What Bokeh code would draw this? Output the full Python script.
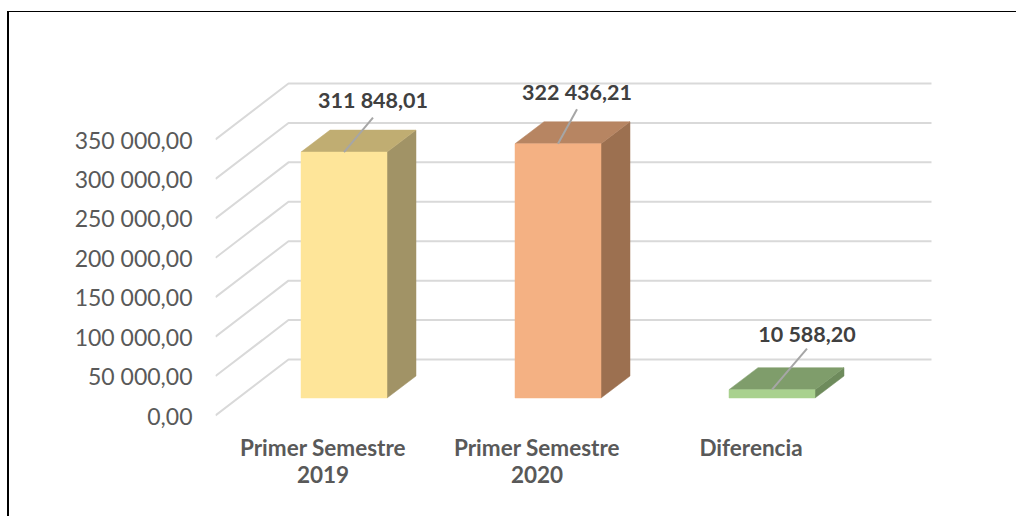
from bokeh.plotting import figure
from bokeh.embed import file_html
from bokeh.resources import INLINE
from bokeh.models import FixedTicker
from bokeh.core.properties import value

# ---- data ----
categories = ["Primer Semestre\n2019", "Primer Semestre\n2020", "Diferencia"]
values = [311848.01, 322436.21, 10588.20]
value_labels = ["311 848,01", "322 436,21", "10 588,20"]
y_ticks = [0, 50000, 100000, 150000, 200000, 250000, 300000, 350000]
y_tick_labels = ["0,00", "50 000,00", "100 000,00", "150 000,00",
                 "200 000,00", "250 000,00", "300 000,00", "350 000,00"]

# ---- colours ----
front_colors = ["#FEE599", "#F4B183", "#A9D18E"]
top_colors = ["#C0AD72", "#B78562", "#7F9D6B"]
side_colors = ["#A19366", "#9C7050", "#6E8B5C"]
GRID = "#D9D9D9"
LEADER = "#A6A6A6"

# ---- layout (window pixels) ----
OX, OY = 9, 12                 # canvas origin, after the css borders
W, H = 1018 - OX, 517 - OY
FL, FB = 215, 425              # frame left / bottom
ZERO_PX = 415                  # value 0 on the front edge of the floor
PX_PER_UNIT = 276 / 350000
CAT_PX = 214
CAT0_PX = 322.5                # centre of first category label
FLOOR_DX, FLOOR_DY = 73, 56    # floor depth
BAR_FRONT_DY = 17.5            # front of bar behind the floor's front edge
BAR_FRONT_DX = 21
BAR_HALF = 43
BAR_DX, BAR_DY = 29, 22        # bar depth
GRID_END_PX = 931
LEADER_DX = [29, 19, 35]
LEADER_DY = [34.5, 34.5, 41]
LABEL_DX = [29, 19, 35]
LABEL_DY = [52, 52, 55.5]

x_start = (FL - CAT0_PX) / CAT_PX
x_end = (1018 - CAT0_PX) / CAT_PX
y_start = -(FB - ZERO_PX) / PX_PER_UNIT
y_end = (ZERO_PX - OY) / PX_PER_UNIT


def dx(px):
    return px / CAT_PX


def dy(px):
    return px / PX_PER_UNIT


p = figure(width=W, height=H, output_backend="svg", toolbar_location=None,
           x_range=(x_start, x_end), y_range=(y_start, y_end),
           min_border_left=FL - OX, min_border_right=0, min_border_top=0,
           min_border_bottom=517 - FB)
p.outline_line_color = None
p.grid.visible = False
p.background_fill_color = None
p.styles = {"position": "fixed", "left": "7px", "top": "11px",
            "border-left": "2px solid #000", "border-top": "1px solid #000",
            "background": "#fff"}

# value axis
p.yaxis.ticker = FixedTicker(ticks=y_ticks)
p.yaxis.major_label_overrides = dict(zip(y_ticks, y_tick_labels))
p.yaxis.axis_line_color = None
p.yaxis.major_tick_line_color = None
p.yaxis.minor_tick_line_color = None
p.yaxis.major_label_standoff = 17
p.yaxis.major_label_text_font = "Lato"
p.yaxis.major_label_text_font_size = "23px"
p.yaxis.major_label_text_color = "#595959"

# category axis
cat_pos = list(range(len(categories)))
p.xaxis.ticker = FixedTicker(ticks=cat_pos)
p.xaxis.major_label_overrides = dict(zip(cat_pos, categories))
p.xaxis.axis_line_color = None
p.xaxis.major_tick_line_color = None
p.xaxis.minor_tick_line_color = None
p.xaxis.major_label_standoff = 2
p.xaxis.major_label_text_font = "Lato"
p.xaxis.major_label_text_font_style = "bold"
p.xaxis.major_label_text_font_size = "22.5px"
p.xaxis.major_label_text_line_height = 1.02
p.xaxis.major_label_text_color = "#595959"

# gridlines: back wall and the diagonal on the side wall
gx, gy = [], []
x_left = x_start
x_back = x_start + dx(FLOOR_DX)
x_right = (GRID_END_PX - CAT0_PX) / CAT_PX
for t in y_ticks:
    gx.append([x_left, x_back, x_right])
    gy.append([t, t + dy(FLOOR_DY), t + dy(FLOOR_DY)])
p.multi_line(gx, gy, line_color=GRID, line_width=2)

# bars
base = dy(BAR_FRONT_DY)
for i, v in enumerate(values):
    left = i + dx(BAR_FRONT_DX - BAR_HALF)
    right = i + dx(BAR_FRONT_DX + BAR_HALF)
    top = base + v
    ddx, ddy = dx(BAR_DX), dy(BAR_DY)
    p.patch([right, right + ddx, right + ddx, right],
            [base, base + ddy, top + ddy, top],
            fill_color=side_colors[i], line_color=side_colors[i], line_width=0.5)
    p.patch([left, right, right + ddx, left + ddx],
            [top, top, top + ddy, top + ddy],
            fill_color=top_colors[i], line_color=top_colors[i], line_width=0.5)
    p.patch([left, right, right, left],
            [base, base, top, top],
            fill_color=front_colors[i], line_color=front_colors[i], line_width=0.5)

# leader lines and value labels
lx, ly, tx, ty = [], [], [], []
for i, v in enumerate(values):
    c = i + dx(BAR_FRONT_DX)
    top = base + v
    lx.append([c, c + dx(LEADER_DX[i])])
    ly.append([top, top + dy(LEADER_DY[i])])
    tx.append(c + dx(LABEL_DX[i]))
    ty.append(top + dy(LABEL_DY[i]))
p.multi_line(lx, ly, line_color=LEADER, line_width=2)
p.text(tx, ty, text=value_labels, text_font=value("Lato"), text_font_style="bold",
       text_font_size="21.5px", text_color="#404040", text_align="center",
       text_baseline="middle")

open("out.html", "w").write(file_html(p, INLINE))
